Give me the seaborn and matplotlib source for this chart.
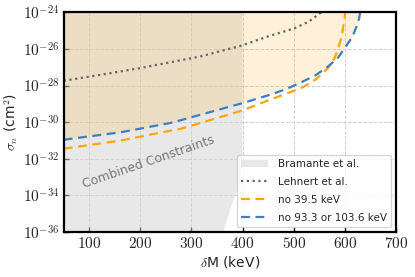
import numpy as np
import matplotlib
matplotlib.use("Agg")
import matplotlib.pyplot as plt
import matplotlib.ticker as mticker
import seaborn as sns

# curve data (sigma given as log10 exponent)
blue_dm = [50, 160, 258, 277, 400, 453, 485, 518, 544, 567, 586, 602, 615, 623, 628, 630]
blue_logsig = [-30.96, -30.56, -30.05, -29.91, -28.96, -28.51, -28.20, -27.78, -27.42,
               -26.96, -26.51, -25.87, -25.33, -24.78, -24.33, -24.0]

orange_dm = [50, 160, 258, 277, 400, 453, 485, 518, 544, 567, 580, 586, 593, 596, 601]
orange_logsig = [-31.45, -31.01, -30.47, -30.38, -29.36, -28.78, -28.45, -28.09, -27.65,
                 -27.05, -26.51, -26.05, -25.42, -24.96, -24.0]

lehnert_dm = [50, 121, 199, 316, 394, 453, 502, 530, 554]
lehnert_logsig = [-27.74, -27.42, -27.05, -26.42, -25.85, -25.29, -24.87, -24.5, -24.0]

# right edge of the Bramante et al. region
bram_edge_dm = [400, 400, 398, 394, 386, 378, 370, 362]
bram_edge_logsig = [-24.0, -31.5, -32.5, -33.3, -34.0, -34.6, -35.3, -36.0]

xticks = [100, 200, 300, 400, 500, 600, 700]
yticks_exp = [-36, -34, -32, -30, -28, -26, -24]

sns.set_theme(style="white")
plt.rcParams['font.family'] = ['DejaVu Sans']
plt.rcParams['mathtext.fontset'] = 'cm'

fig = plt.figure(figsize=(4.15, 2.77), dpi=100)
ax = fig.add_axes([0.1535, 0.1625, 0.8005, 0.7931])

blue_sig = 10.0 ** np.array(blue_logsig)
orange_sig = 10.0 ** np.array(orange_logsig)
lehnert_sig = 10.0 ** np.array(lehnert_logsig)

# Bramante et al. region
poly_x = [50] + bram_edge_dm + [50]
poly_y = [1e-24] + list(10.0 ** np.array(bram_edge_logsig)) + [1e-36]
ax.fill(poly_x, poly_y, color='lightgray', alpha=0.5, lw=0, label='Bramante et al.')

# excluded region above the blue curve
ax.fill_between(blue_dm, blue_sig, 1e-24, color='orange', alpha=0.15, lw=0)

sns.lineplot(x=lehnert_dm, y=lehnert_sig, sort=False, ax=ax, color='#666666',
             linestyle=(0, (1, 1.6)), lw=1.6, label='Lehnert et al.')
sns.lineplot(x=orange_dm, y=orange_sig, sort=False, ax=ax, color='orange',
             linestyle=(0, (4, 2.5)), lw=1.6, label='no 39.5 keV')
sns.lineplot(x=blue_dm, y=blue_sig, sort=False, ax=ax, color='#3a7fbf',
             linestyle=(0, (4, 2.5)), lw=1.6, label='no 93.3 or 103.6 keV')

ax.text(215, 10 ** -32.2, 'Combined Constraints', color='#777777', fontsize=9,
        rotation=19, ha='center', va='center')

ax.set_yscale('log')
ax.set_xlim(50, 700)
ax.set_ylim(1e-36, 1e-24)
ax.set_xticks(xticks)
ax.set_yticks([10.0 ** e for e in yticks_exp])
ax.yaxis.set_minor_locator(mticker.NullLocator())
ax.xaxis.set_major_formatter(mticker.FuncFormatter(lambda v, p: r'$%d$' % v))
ax.yaxis.set_major_formatter(mticker.FuncFormatter(
    lambda v, p: r'$10^{%d}$' % int(round(np.log10(v)))))
ax.tick_params(direction='in', length=3.5, width=1, labelsize=11, color='black',
               bottom=True, left=True, pad=3)
ax.grid(True, color='#d0d0d0', linestyle='--', lw=0.7)
for s in ax.spines.values():
    s.set_color('black')
    s.set_linewidth(1.6)

ax.set_xlabel(r'$\delta$M (keV)', fontsize=10, labelpad=2)
ax.set_ylabel(r'$\sigma_n$ (cm$^2$)', fontsize=10, labelpad=2)

leg = ax.legend(loc='lower right', fontsize=7.5, frameon=True, fancybox=True,
                framealpha=0.8, edgecolor='#cccccc', handlelength=2.6,
                handletextpad=0.9, labelspacing=0.75, borderaxespad=0.5)

fig.savefig('out.png', dpi=100)
